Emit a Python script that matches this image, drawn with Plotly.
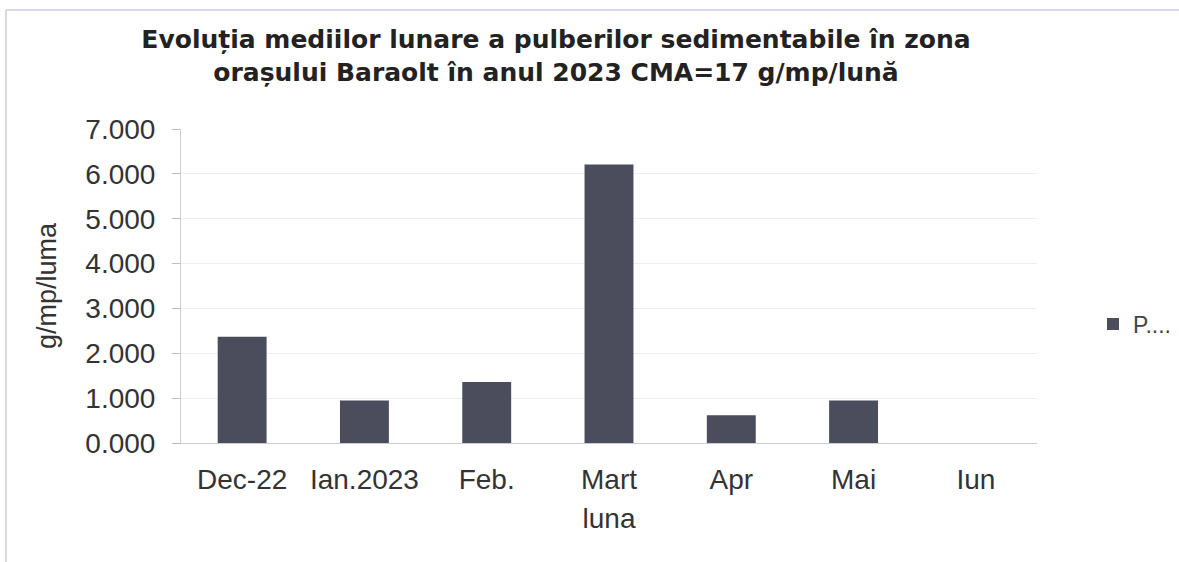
import plotly.graph_objects as go

categories = ["Dec-22", "Ian.2023", "Feb.", "Mart", "Apr", "Mai", "Iun"]
values = [2.37, 0.95, 1.36, 6.21, 0.62, 0.95, 0.0]
series_name = "P...."

W, H = 1179, 562
L, R, T, B = 181, 142, 129, 119
pw, ph = W - L - R, H - T - B

def px(x):
    return (x - L) / pw

def py(y):
    return (H - B - y) / ph

fig = go.Figure()
fig.add_trace(go.Bar(
    x=categories, y=values, name=series_name,
    marker=dict(color="#4b4d5c", line=dict(width=0)),
    showlegend=True,
))

fig.update_layout(
    width=W, height=H,
    margin=dict(l=L, r=R, t=T, b=B, autoexpand=False),
    paper_bgcolor="white", plot_bgcolor="white",
    font=dict(family="Liberation Sans, Arial, sans-serif", color="#333333"),
    bargap=0.6,
    title=dict(
        text="<b>Evoluția mediilor lunare a pulberilor sedimentabile în zona<br>orașului Baraolt în anul 2023 CMA=17 g/mp/lună</b>",
        x=556 / W, xanchor="center", xref="container",
        y=1 - 48 / H, yanchor="middle", yref="container",
        font=dict(family="DejaVu Sans, sans-serif", size=25, color="#222222"),
    ),
    xaxis=dict(
        showgrid=False, showline=True, linecolor="#c9cbdc", linewidth=1,
        ticks="", tickfont=dict(size=28, color="#333333"),
        ticklabelstandoff=11,
        title=dict(text="luna", font=dict(size=28, color="#333333"), standoff=14),
    ),
    yaxis=dict(
        range=[0, 7], dtick=1, tickformat=".3f",
        showgrid=True, gridcolor="#ececf2", gridwidth=1,
        showline=True, linecolor="#c9cbdc", linewidth=1,
        ticks="outside", ticklen=8, tickcolor="#b9bbcc",
        ticklabelstandoff=11,
        tickfont=dict(size=28, color="#333333"),
        title=dict(text="g/mp/luma", font=dict(size=27, color="#333333"), standoff=20),
        zeroline=False,
    ),
    legend=dict(
        x=px(1093), y=py(324), xanchor="left", yanchor="middle",
        font=dict(size=23, color="#444444"), bgcolor="rgba(0,0,0,0)",
        itemwidth=30,
    ),
    shapes=[
        dict(type="line", xref="paper", yref="paper",
             x0=px(6), x1=px(6), y0=py(10), y1=py(562),
             line=dict(color="#c8cbe0", width=1.5)),
        dict(type="line", xref="paper", yref="paper",
             x0=px(6), x1=px(1179), y0=py(10), y1=py(10),
             line=dict(color="#c8cbe0", width=1.5)),
    ],
)

fig.write_html("out.html", config={"displayModeBar": False},
               post_script="document.body.style.margin='0';")
